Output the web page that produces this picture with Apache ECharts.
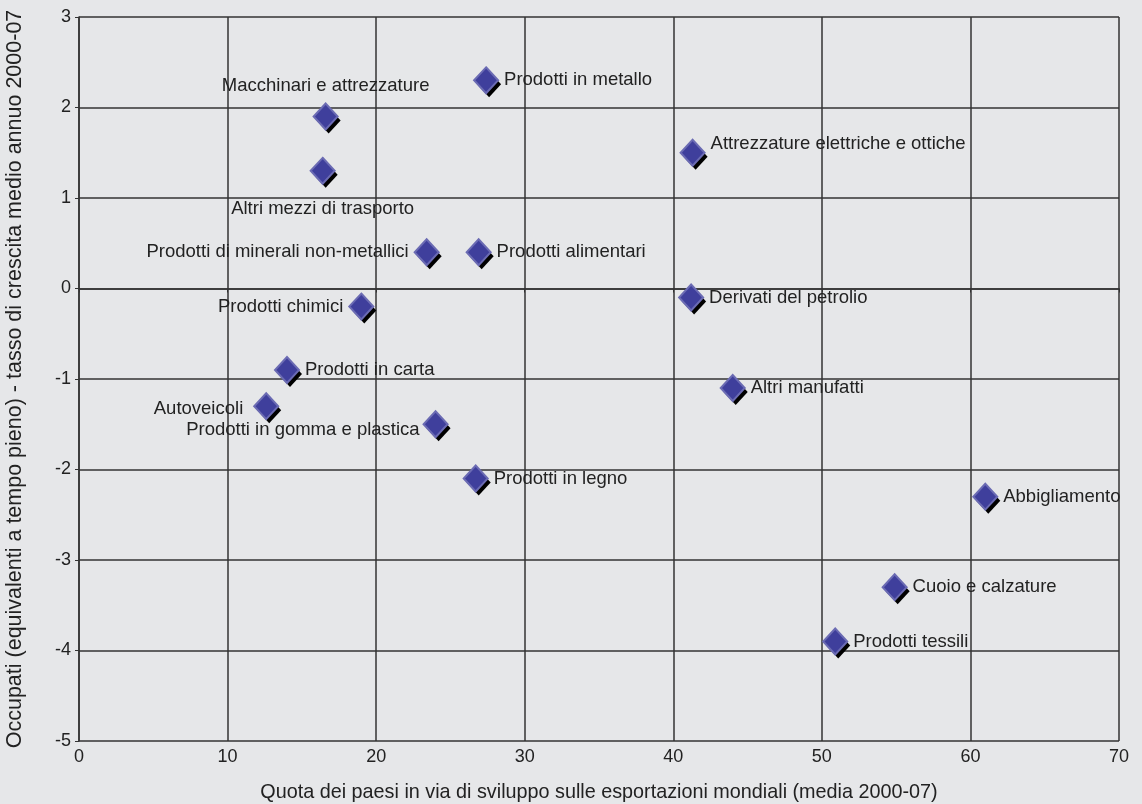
<!DOCTYPE html>
<html>
<head>
<meta charset="utf-8">
<script src="https://cdn.jsdelivr.net/npm/echarts@6/dist/echarts.min.js"></script>
<style>
  html, body { margin: 0; padding: 0; background: #e6e7e9; }
  #main { width: 1142px; height: 804px; }
</style>
</head>
<body>
<div id="main"></div>
<script>
// settori e valori
const sectors = [
  'Macchinari e attrezzature', 'Altri mezzi di trasporto', 'Prodotti in metallo',
  'Attrezzature elettriche e ottiche', 'Prodotti di minerali non-metallici', 'Prodotti alimentari',
  'Derivati del petrolio', 'Prodotti chimici', 'Prodotti in carta', 'Altri manufatti',
  'Autoveicoli', 'Prodotti in gomma e plastica', 'Prodotti in legno', 'Abbigliamento',
  'Cuoio e calzature', 'Prodotti tessili'
];
const quotaExport = [16.6, 16.4, 27.4, 41.3, 23.4, 26.9, 41.2, 19.0, 14.0, 44.0, 12.6, 24.0, 26.7, 61.0, 54.9, 50.9];
const crescitaOccupati = [1.9, 1.3, 2.3, 1.5, 0.4, 0.4, -0.1, -0.2, -0.9, -1.1, -1.3, -1.5, -2.1, -2.3, -3.3, -3.9];

// dove va l'etichetta di ogni punto
const labelPlace = ['top', 'bottom', 'right', 'right', 'left', 'right', 'right', 'left',
  'right', 'right', 'left', 'left', 'right', 'right', 'right', 'right'];
const labelShift = {
  0: [0, -2], 1: [0, 10], 3: [0, -9], 10: [-5, 3], 11: [2, 6]
};

const FONT = 'Liberation Sans, Arial, sans-serif';
const pts = sectors.map((name, i) => [quotaExport[i], crescitaOccupati[i], name]);

const chart = echarts.init(document.getElementById('main'));
chart.setOption({
  backgroundColor: '#e6e7e9',
  animation: false,
  grid: { left: 79, right: 23, top: 17, bottom: 63, show: false, outerBoundsMode: 'none', containLabel: false },
  xAxis: {
    type: 'value', min: 0, max: 70, interval: 10,
    name: 'Quota dei paesi in via di sviluppo sulle esportazioni mondiali (media 2000-07)',
    nameLocation: 'middle', nameGap: 42,
    nameTextStyle: { fontFamily: FONT, fontSize: 19.8, color: '#222' },
    axisLine: { lineStyle: { color: '#333', width: 1.5 } },
    axisTick: { show: true, length: 4, lineStyle: { color: '#333' } },
    axisLabel: { fontFamily: FONT, fontSize: 18, color: '#222', margin: 7 },
    splitLine: { show: true, lineStyle: { color: '#333', width: 1.5 } }
  },
  yAxis: {
    type: 'value', min: -5, max: 3, interval: 1,
    name: 'Occupati (equivalenti a tempo pieno) - tasso di crescita medio annuo 2000-07',
    nameLocation: 'middle', nameGap: 53, nameRotate: 90,
    nameTextStyle: { fontFamily: FONT, fontSize: 21.5, color: '#222' },
    axisLine: { show: true, lineStyle: { color: '#333', width: 1.5 } },
    axisTick: { show: true, length: 4, lineStyle: { color: '#333' } },
    axisLabel: { fontFamily: FONT, fontSize: 18, color: '#222', margin: 8 },
    splitLine: { show: true, lineStyle: { color: '#333', width: 1.5 } }
  },
  series: [
    {
      // ombra nera dei rombi
      type: 'scatter',
      symbol: 'diamond',
      symbolSize: [24, 26],
      symbolOffset: [3, 4],
      silent: true,
      data: pts,
      itemStyle: { color: '#000', opacity: 1 },
      z: 2
    },
    {
      type: 'scatter',
      symbol: 'diamond',
      symbolSize: [24, 26],
      data: pts.map((p, i) => ({
        value: p,
        label: {
          position: labelPlace[i],
          offset: labelShift[i] || [0, 0]
        }
      })),
      itemStyle: {
        color: '#3f3f9c',
        borderColor: '#6b6bb3',
        borderWidth: 2,
        opacity: 1
      },
      label: {
        show: true,
        formatter: p => p.value[2],
        distance: 5,
        fontFamily: FONT,
        fontSize: 18.5,
        color: '#222'
      },
      z: 3
    }
  ]
});
</script>
</body>
</html>
